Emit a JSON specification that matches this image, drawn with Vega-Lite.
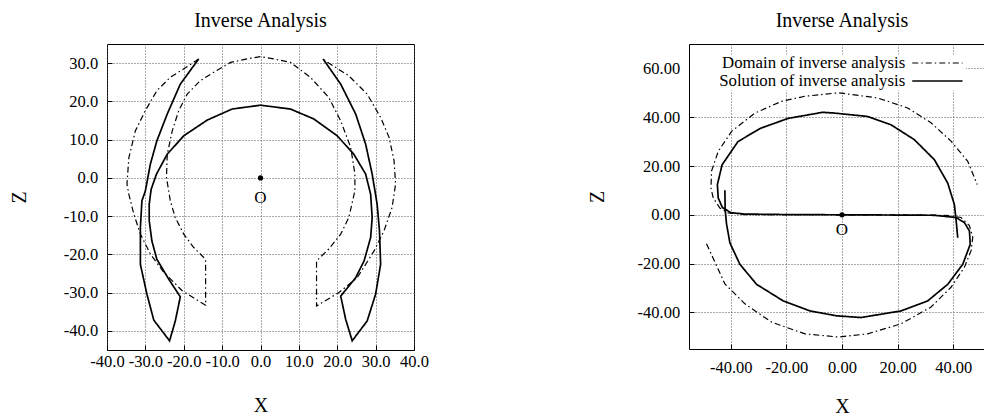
{
  "$schema": "https://vega.github.io/schema/vega-lite/v6.json",
  "padding": {"left": 8, "top": 10, "right": 0, "bottom": 0},
  "background": "white",
  "config": {
    "font": "Liberation Serif",
    "view": {"stroke": "black", "strokeWidth": 1},
    "axis": {
      "labelFont": "Liberation Serif",
      "labelFontSize": 16.5,
      "labelColor": "black",
      "titleFont": "Liberation Serif",
      "titleFontSize": 20,
      "titleFontWeight": "normal",
      "titleColor": "black",
      "domain": false,
      "grid": true,
      "gridColor": "#555555",
      "gridDash": [1, 2],
      "gridOpacity": 1,
      "gridWidth": 1,
      "ticks": true,
      "tickSize": -5,
      "tickColor": "black",
      "labelFlush": false,
      "labelOverlap": false
    },
    "title": {"font": "Liberation Serif", "fontSize": 20, "fontWeight": "normal", "color": "black", "frame": "group", "anchor": "middle", "offset": 13},
    "legend": {"labelFont": "Liberation Serif"}
  },
  "datasets": {
    "left": [
      {"series": "Domain of inverse analysis", "i": 1, "x": -16.1, "z": 31.1},
      {"series": "Domain of inverse analysis", "i": 2, "x": -20.0, "z": 28.5},
      {"series": "Domain of inverse analysis", "i": 3, "x": -23.5, "z": 26.3},
      {"series": "Domain of inverse analysis", "i": 4, "x": -27.0, "z": 22.8},
      {"series": "Domain of inverse analysis", "i": 5, "x": -30.0, "z": 17.6},
      {"series": "Domain of inverse analysis", "i": 6, "x": -32.6, "z": 12.3},
      {"series": "Domain of inverse analysis", "i": 7, "x": -34.3, "z": 5.3},
      {"series": "Domain of inverse analysis", "i": 8, "x": -34.8, "z": -1.6},
      {"series": "Domain of inverse analysis", "i": 9, "x": -34.3, "z": -4.3},
      {"series": "Domain of inverse analysis", "i": 10, "x": -33.0, "z": -9.5},
      {"series": "Domain of inverse analysis", "i": 11, "x": -31.3, "z": -14.7},
      {"series": "Domain of inverse analysis", "i": 12, "x": -28.7, "z": -19.9},
      {"series": "Domain of inverse analysis", "i": 13, "x": -25.2, "z": -24.7},
      {"series": "Domain of inverse analysis", "i": 14, "x": -20.4, "z": -29.5},
      {"series": "Domain of inverse analysis", "i": 15, "x": -14.3, "z": -33.3},
      {"series": "Domain of inverse analysis", "i": 16, "x": -14.3, "z": -21.3},
      {"series": "Domain of inverse analysis", "i": 17, "x": -17.4, "z": -18.2},
      {"series": "Domain of inverse analysis", "i": 18, "x": -20.0, "z": -14.7},
      {"series": "Domain of inverse analysis", "i": 19, "x": -22.2, "z": -10.4},
      {"series": "Domain of inverse analysis", "i": 20, "x": -23.5, "z": -6.0},
      {"series": "Domain of inverse analysis", "i": 21, "x": -24.5, "z": 0.1},
      {"series": "Domain of inverse analysis", "i": 22, "x": -24.3, "z": 6.2},
      {"series": "Domain of inverse analysis", "i": 23, "x": -23.0, "z": 12.3},
      {"series": "Domain of inverse analysis", "i": 24, "x": -21.3, "z": 17.6},
      {"series": "Domain of inverse analysis", "i": 25, "x": -19.1, "z": 21.9},
      {"series": "Domain of inverse analysis", "i": 26, "x": -15.7, "z": 25.4},
      {"series": "Domain of inverse analysis", "i": 27, "x": -12.2, "z": 27.6},
      {"series": "Domain of inverse analysis", "i": 28, "x": -7.8, "z": 30.2},
      {"series": "Domain of inverse analysis", "i": 29, "x": -3.5, "z": 31.1},
      {"series": "Domain of inverse analysis", "i": 30, "x": 0.0, "z": 31.7},
      {"series": "Domain of inverse analysis", "i": 31, "x": 3.5, "z": 31.1},
      {"series": "Domain of inverse analysis", "i": 32, "x": 7.8, "z": 30.2},
      {"series": "Domain of inverse analysis", "i": 33, "x": 13.0, "z": 26.3},
      {"series": "Domain of inverse analysis", "i": 34, "x": 17.8, "z": 21.0},
      {"series": "Domain of inverse analysis", "i": 35, "x": 20.9, "z": 14.9},
      {"series": "Domain of inverse analysis", "i": 36, "x": 23.5, "z": 8.0},
      {"series": "Domain of inverse analysis", "i": 37, "x": 24.6, "z": 1.0},
      {"series": "Domain of inverse analysis", "i": 38, "x": 24.6, "z": -3.4},
      {"series": "Domain of inverse analysis", "i": 39, "x": 23.0, "z": -10.4},
      {"series": "Domain of inverse analysis", "i": 40, "x": 20.9, "z": -14.7},
      {"series": "Domain of inverse analysis", "i": 41, "x": 17.8, "z": -18.6},
      {"series": "Domain of inverse analysis", "i": 42, "x": 14.6, "z": -21.7},
      {"series": "Domain of inverse analysis", "i": 43, "x": 14.6, "z": -33.5},
      {"series": "Domain of inverse analysis", "i": 44, "x": 20.4, "z": -30.0},
      {"series": "Domain of inverse analysis", "i": 45, "x": 25.2, "z": -26.1},
      {"series": "Domain of inverse analysis", "i": 46, "x": 29.6, "z": -19.1},
      {"series": "Domain of inverse analysis", "i": 47, "x": 32.2, "z": -13.8},
      {"series": "Domain of inverse analysis", "i": 48, "x": 34.3, "z": -7.7},
      {"series": "Domain of inverse analysis", "i": 49, "x": 35.2, "z": -1.6},
      {"series": "Domain of inverse analysis", "i": 50, "x": 34.8, "z": 4.5},
      {"series": "Domain of inverse analysis", "i": 51, "x": 33.5, "z": 10.6},
      {"series": "Domain of inverse analysis", "i": 52, "x": 31.3, "z": 15.8},
      {"series": "Domain of inverse analysis", "i": 53, "x": 27.8, "z": 21.9},
      {"series": "Domain of inverse analysis", "i": 54, "x": 23.0, "z": 26.7},
      {"series": "Domain of inverse analysis", "i": 55, "x": 16.1, "z": 31.1},
      {"series": "Solution of inverse analysis", "i": 1, "x": -16.1, "z": 31.1},
      {"series": "Solution of inverse analysis", "i": 2, "x": -20.9, "z": 24.5},
      {"series": "Solution of inverse analysis", "i": 3, "x": -24.3, "z": 16.7},
      {"series": "Solution of inverse analysis", "i": 4, "x": -27.0, "z": 9.7},
      {"series": "Solution of inverse analysis", "i": 5, "x": -28.7, "z": 3.6},
      {"series": "Solution of inverse analysis", "i": 6, "x": -30.0, "z": -3.4},
      {"series": "Solution of inverse analysis", "i": 7, "x": -30.9, "z": -6.0},
      {"series": "Solution of inverse analysis", "i": 8, "x": -31.3, "z": -13.0},
      {"series": "Solution of inverse analysis", "i": 9, "x": -31.3, "z": -22.6},
      {"series": "Solution of inverse analysis", "i": 10, "x": -29.6, "z": -30.4},
      {"series": "Solution of inverse analysis", "i": 11, "x": -27.8, "z": -37.2},
      {"series": "Solution of inverse analysis", "i": 12, "x": -23.7, "z": -42.6},
      {"series": "Solution of inverse analysis", "i": 13, "x": -22.2, "z": -37.4},
      {"series": "Solution of inverse analysis", "i": 14, "x": -20.9, "z": -31.1},
      {"series": "Solution of inverse analysis", "i": 15, "x": -23.9, "z": -26.5},
      {"series": "Solution of inverse analysis", "i": 16, "x": -27.0, "z": -21.3},
      {"series": "Solution of inverse analysis", "i": 17, "x": -28.3, "z": -16.5},
      {"series": "Solution of inverse analysis", "i": 18, "x": -29.0, "z": -11.2},
      {"series": "Solution of inverse analysis", "i": 19, "x": -29.0, "z": -6.9},
      {"series": "Solution of inverse analysis", "i": 20, "x": -28.5, "z": -3.0},
      {"series": "Solution of inverse analysis", "i": 21, "x": -27.1, "z": 1.0},
      {"series": "Solution of inverse analysis", "i": 22, "x": -24.3, "z": 6.2},
      {"series": "Solution of inverse analysis", "i": 23, "x": -20.0, "z": 11.0},
      {"series": "Solution of inverse analysis", "i": 24, "x": -13.9, "z": 15.1},
      {"series": "Solution of inverse analysis", "i": 25, "x": -7.4, "z": 18.0},
      {"series": "Solution of inverse analysis", "i": 26, "x": 0.0, "z": 19.0},
      {"series": "Solution of inverse analysis", "i": 27, "x": 7.8, "z": 18.0},
      {"series": "Solution of inverse analysis", "i": 28, "x": 13.9, "z": 15.4},
      {"series": "Solution of inverse analysis", "i": 29, "x": 20.0, "z": 11.0},
      {"series": "Solution of inverse analysis", "i": 30, "x": 24.3, "z": 6.2},
      {"series": "Solution of inverse analysis", "i": 31, "x": 27.4, "z": 1.0},
      {"series": "Solution of inverse analysis", "i": 32, "x": 28.7, "z": -4.3},
      {"series": "Solution of inverse analysis", "i": 33, "x": 29.1, "z": -10.4},
      {"series": "Solution of inverse analysis", "i": 34, "x": 28.7, "z": -15.6},
      {"series": "Solution of inverse analysis", "i": 35, "x": 27.0, "z": -21.7},
      {"series": "Solution of inverse analysis", "i": 36, "x": 24.8, "z": -26.1},
      {"series": "Solution of inverse analysis", "i": 37, "x": 20.9, "z": -30.9},
      {"series": "Solution of inverse analysis", "i": 38, "x": 22.2, "z": -37.0},
      {"series": "Solution of inverse analysis", "i": 39, "x": 23.9, "z": -42.6},
      {"series": "Solution of inverse analysis", "i": 40, "x": 27.8, "z": -37.4},
      {"series": "Solution of inverse analysis", "i": 41, "x": 30.0, "z": -30.4},
      {"series": "Solution of inverse analysis", "i": 42, "x": 31.3, "z": -22.6},
      {"series": "Solution of inverse analysis", "i": 43, "x": 31.0, "z": -13.8},
      {"series": "Solution of inverse analysis", "i": 44, "x": 30.4, "z": -6.9},
      {"series": "Solution of inverse analysis", "i": 45, "x": 29.1, "z": 1.0},
      {"series": "Solution of inverse analysis", "i": 46, "x": 27.4, "z": 8.8},
      {"series": "Solution of inverse analysis", "i": 47, "x": 24.8, "z": 16.7},
      {"series": "Solution of inverse analysis", "i": 48, "x": 20.9, "z": 24.5},
      {"series": "Solution of inverse analysis", "i": 49, "x": 16.3, "z": 31.1}
    ],
    "right": [
      {"series": "Domain of inverse analysis", "i": 1, "x": -48.7, "z": -11.9},
      {"series": "Domain of inverse analysis", "i": 2, "x": -42.1, "z": -28.3},
      {"series": "Domain of inverse analysis", "i": 3, "x": -34.9, "z": -36.5},
      {"series": "Domain of inverse analysis", "i": 4, "x": -25.3, "z": -44.0},
      {"series": "Domain of inverse analysis", "i": 5, "x": -13.3, "z": -48.8},
      {"series": "Domain of inverse analysis", "i": 6, "x": -1.3, "z": -50.1},
      {"series": "Domain of inverse analysis", "i": 7, "x": 9.2, "z": -48.8},
      {"series": "Domain of inverse analysis", "i": 8, "x": 21.2, "z": -44.7},
      {"series": "Domain of inverse analysis", "i": 9, "x": 32.0, "z": -37.8},
      {"series": "Domain of inverse analysis", "i": 10, "x": 39.2, "z": -29.7},
      {"series": "Domain of inverse analysis", "i": 11, "x": 44.0, "z": -21.5},
      {"series": "Domain of inverse analysis", "i": 12, "x": 46.4, "z": -14.7},
      {"series": "Domain of inverse analysis", "i": 13, "x": 47.0, "z": -9.2},
      {"series": "Domain of inverse analysis", "i": 14, "x": 45.8, "z": -4.4},
      {"series": "Domain of inverse analysis", "i": 15, "x": 42.8, "z": -1.1},
      {"series": "Domain of inverse analysis", "i": 16, "x": 39.2, "z": -0.4},
      {"series": "Domain of inverse analysis", "i": 17, "x": 33.2, "z": -0.1},
      {"series": "Domain of inverse analysis", "i": 18, "x": 0.0, "z": 0.0},
      {"series": "Domain of inverse analysis", "i": 19, "x": -34.9, "z": 0.1},
      {"series": "Domain of inverse analysis", "i": 20, "x": -40.9, "z": 0.8},
      {"series": "Domain of inverse analysis", "i": 21, "x": -43.9, "z": 2.8},
      {"series": "Domain of inverse analysis", "i": 22, "x": -46.3, "z": 6.9},
      {"series": "Domain of inverse analysis", "i": 23, "x": -47.1, "z": 11.0},
      {"series": "Domain of inverse analysis", "i": 24, "x": -46.9, "z": 17.9},
      {"series": "Domain of inverse analysis", "i": 25, "x": -44.5, "z": 26.0},
      {"series": "Domain of inverse analysis", "i": 26, "x": -39.7, "z": 34.2},
      {"series": "Domain of inverse analysis", "i": 27, "x": -31.3, "z": 41.7},
      {"series": "Domain of inverse analysis", "i": 28, "x": -21.7, "z": 46.5},
      {"series": "Domain of inverse analysis", "i": 29, "x": -13.3, "z": 48.6},
      {"series": "Domain of inverse analysis", "i": 30, "x": -1.3, "z": 50.0},
      {"series": "Domain of inverse analysis", "i": 31, "x": 12.8, "z": 47.9},
      {"series": "Domain of inverse analysis", "i": 32, "x": 23.6, "z": 43.8},
      {"series": "Domain of inverse analysis", "i": 33, "x": 32.0, "z": 37.7},
      {"series": "Domain of inverse analysis", "i": 34, "x": 39.2, "z": 30.2},
      {"series": "Domain of inverse analysis", "i": 35, "x": 45.2, "z": 21.9},
      {"series": "Domain of inverse analysis", "i": 36, "x": 48.6, "z": 12.4},
      {"series": "Solution of inverse analysis", "i": 1, "x": -42.1, "z": 10.1},
      {"series": "Solution of inverse analysis", "i": 2, "x": -42.0, "z": 2.0},
      {"series": "Solution of inverse analysis", "i": 3, "x": -41.5, "z": -3.8},
      {"series": "Solution of inverse analysis", "i": 4, "x": -40.3, "z": -11.5},
      {"series": "Solution of inverse analysis", "i": 5, "x": -36.7, "z": -20.3},
      {"series": "Solution of inverse analysis", "i": 6, "x": -30.7, "z": -28.5},
      {"series": "Solution of inverse analysis", "i": 7, "x": -21.1, "z": -35.3},
      {"series": "Solution of inverse analysis", "i": 8, "x": -11.5, "z": -39.4},
      {"series": "Solution of inverse analysis", "i": 9, "x": -1.9, "z": -41.4},
      {"series": "Solution of inverse analysis", "i": 10, "x": 6.8, "z": -42.1},
      {"series": "Solution of inverse analysis", "i": 11, "x": 21.2, "z": -39.4},
      {"series": "Solution of inverse analysis", "i": 12, "x": 30.8, "z": -35.3},
      {"series": "Solution of inverse analysis", "i": 13, "x": 38.0, "z": -28.5},
      {"series": "Solution of inverse analysis", "i": 14, "x": 43.4, "z": -20.3},
      {"series": "Solution of inverse analysis", "i": 15, "x": 46.1, "z": -12.1},
      {"series": "Solution of inverse analysis", "i": 16, "x": 45.8, "z": -6.6},
      {"series": "Solution of inverse analysis", "i": 17, "x": 44.0, "z": -3.2},
      {"series": "Solution of inverse analysis", "i": 18, "x": 41.0, "z": -1.1},
      {"series": "Solution of inverse analysis", "i": 19, "x": 33.2, "z": -0.2},
      {"series": "Solution of inverse analysis", "i": 20, "x": 20.0, "z": -0.1},
      {"series": "Solution of inverse analysis", "i": 21, "x": 0.0, "z": 0.0},
      {"series": "Solution of inverse analysis", "i": 22, "x": -20.0, "z": 0.1},
      {"series": "Solution of inverse analysis", "i": 23, "x": -35.0, "z": 0.3},
      {"series": "Solution of inverse analysis", "i": 24, "x": -40.0, "z": 0.9},
      {"series": "Solution of inverse analysis", "i": 25, "x": -43.0, "z": 3.0},
      {"series": "Solution of inverse analysis", "i": 26, "x": -44.5, "z": 6.9},
      {"series": "Solution of inverse analysis", "i": 27, "x": -44.8, "z": 12.4},
      {"series": "Solution of inverse analysis", "i": 28, "x": -43.1, "z": 20.5},
      {"series": "Solution of inverse analysis", "i": 29, "x": -37.4, "z": 30.0},
      {"series": "Solution of inverse analysis", "i": 30, "x": -29.4, "z": 35.4},
      {"series": "Solution of inverse analysis", "i": 31, "x": -19.4, "z": 39.5},
      {"series": "Solution of inverse analysis", "i": 32, "x": -7.0, "z": 42.0},
      {"series": "Solution of inverse analysis", "i": 33, "x": -2.8, "z": 41.7},
      {"series": "Solution of inverse analysis", "i": 34, "x": 9.2, "z": 40.3},
      {"series": "Solution of inverse analysis", "i": 35, "x": 17.6, "z": 36.9},
      {"series": "Solution of inverse analysis", "i": 36, "x": 26.0, "z": 30.8},
      {"series": "Solution of inverse analysis", "i": 37, "x": 33.2, "z": 22.6},
      {"series": "Solution of inverse analysis", "i": 38, "x": 38.0, "z": 13.0},
      {"series": "Solution of inverse analysis", "i": 39, "x": 40.4, "z": 4.2},
      {"series": "Solution of inverse analysis", "i": 40, "x": 41.0, "z": -2.0},
      {"series": "Solution of inverse analysis", "i": 41, "x": 41.6, "z": -9.4}
    ],
    "origin": [{"x": 0, "z": 0, "label": "O"}]
  },
  "hconcat": [
    {
      "width": 307,
      "height": 306,
      "title": {"text": "Inverse Analysis"},
      "encoding": {
        "x": {"field": "x", "type": "quantitative",
          "scale": {"domain": [-40, 40], "nice": false, "zero": false},
          "axis": {"values": [-40, -30, -20, -10, 0, 10, 20, 30, 40],
            "labelExpr": "(datum.value < 0 ? '-' : '') + format(abs(datum.value), '.1f')",
            "labelOverlap": false, "labelPadding": 8.6, "title": "X", "titleY": 55, "titleBaseline": "middle"}},
        "y": {"field": "z", "type": "quantitative",
          "scale": {"domain": [-45, 35], "nice": false, "zero": false},
          "axis": {"values": [-40, -30, -20, -10, 0, 10, 20, 30],
            "labelExpr": "(datum.value < 0 ? '-' : '') + format(abs(datum.value), '.1f')",
            "labelOverlap": false, "labelPadding": 14.3, "title": "Z", "titleX": -88, "titleBaseline": "middle"}}
      },
      "layer": [
        {
          "data": {"name": "left"},
          "mark": {"type": "line", "color": "black", "clip": true},
          "encoding": {
            "strokeDash": {"field": "series", "type": "nominal",
              "scale": {"domain": ["Domain of inverse analysis", "Solution of inverse analysis"], "range": [[6, 3, 1.5, 3], [1, 0]]},
              "legend": null},
            "strokeWidth": {"field": "series", "type": "nominal",
              "scale": {"domain": ["Domain of inverse analysis", "Solution of inverse analysis"], "range": [1.2, 1.7]},
              "legend": null},
            "order": {"field": "i", "type": "quantitative"}
          }
        },
        {
          "data": {"name": "origin"},
          "mark": {"type": "point", "filled": true, "color": "black", "size": 28, "opacity": 1}
        },
        {
          "data": {"name": "origin"},
          "mark": {"type": "text", "font": "Liberation Serif", "fontSize": 17, "dy": 20, "baseline": "middle", "color": "black"},
          "encoding": {"text": {"field": "label"}}
        }
      ]
    },
    {
      "width": 306,
      "height": 305,
      "title": {"text": "Inverse Analysis"},
      "encoding": {
        "x": {"field": "x", "type": "quantitative",
          "scale": {"domain": [-55, 55], "nice": false, "zero": false},
          "axis": {"values": [-40, -20, 0, 20, 40],
            "labelExpr": "(datum.value < 0 ? '-' : '') + format(abs(datum.value), '.2f')",
            "labelOverlap": false, "labelPadding": 15.2, "title": "X", "titleY": 57, "titleBaseline": "middle"}},
        "y": {"field": "z", "type": "quantitative",
          "scale": {"domain": [-55, 70], "nice": false, "zero": false},
          "axis": {"values": [-40, -20, 0, 20, 40, 60],
            "labelExpr": "(datum.value < 0 ? '-' : '') + format(abs(datum.value), '.2f')",
            "labelOverlap": false, "labelPadding": 14.3, "title": "Z", "titleX": -92, "titleBaseline": "middle"}}
      },
      "layer": [
        {
          "data": {"name": "right"},
          "mark": {"type": "line", "color": "black", "clip": true},
          "encoding": {
            "strokeDash": {"field": "series", "type": "nominal",
              "scale": {"domain": ["Domain of inverse analysis", "Solution of inverse analysis"], "range": [[6, 3, 1.5, 3], [1, 0]]},
              "legend": {"orient": "none", "legendX": 1, "legendY": 10.6, "title": null,
                "symbolType": "M-4,0H4", "symbolSize": 158, "symbolStrokeWidth": 1.5, "symbolStrokeColor": "black",
                "symbolOffset": 239,
                "labelAlign": "right", "labelOffset": -40.6, "labelFontSize": 16.8, "labelColor": "black",
                "rowPadding": -1.3, "padding": 0, "fillColor": "white", "labelLimit": 400}},
            "strokeWidth": {"field": "series", "type": "nominal",
              "scale": {"domain": ["Domain of inverse analysis", "Solution of inverse analysis"], "range": [1.2, 1.7]},
              "legend": null},
            "order": {"field": "i", "type": "quantitative"}
          }
        },
        {
          "data": {"name": "origin"},
          "mark": {"type": "point", "filled": true, "color": "black", "size": 28, "opacity": 1}
        },
        {
          "data": {"name": "origin"},
          "mark": {"type": "text", "font": "Liberation Serif", "fontSize": 17, "dy": 15, "baseline": "middle", "color": "black"},
          "encoding": {"text": {"field": "label"}}
        }
      ]
    }
  ],
  "spacing": 157,
  "resolve": {"scale": {"x": "independent", "y": "independent", "strokeDash": "independent", "strokeWidth": "independent"}, "legend": {"strokeDash": "independent", "strokeWidth": "independent"}}
}
